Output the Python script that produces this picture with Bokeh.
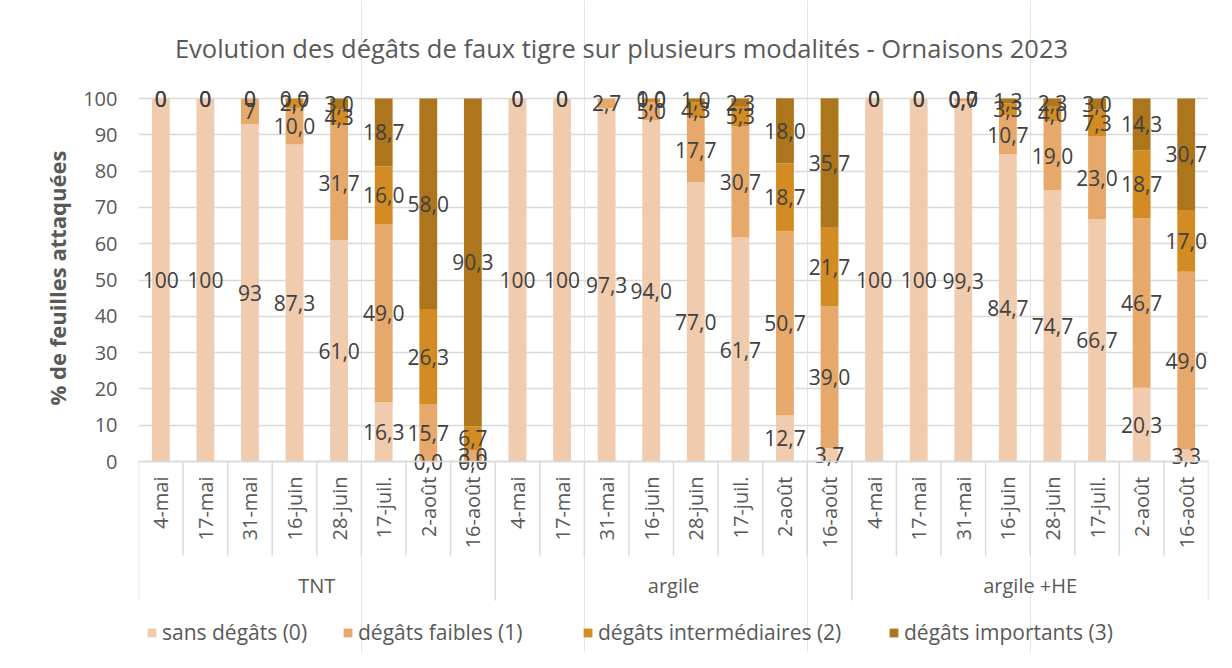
import math
from bokeh.plotting import figure
from bokeh.models import ColumnDataSource, Range1d, FixedTicker, Title, Legend, LegendItem
from bokeh.core.properties import value
from bokeh.embed import file_html
from bokeh.resources import INLINE

# ---------------- data ----------------
GROUPS = ["TNT", "argile", "argile +HE"]
DATES = ["4-mai", "17-mai", "31-mai", "16-juin", "28-juin", "17-juil.", "2-août", "16-août"]
SERIES = ["sans dégâts (0)", "dégâts faibles (1)", "dégâts intermédiaires (2)", "dégâts importants (3)"]

TNT_0 = [100, 100, 93, 87.3, 61.0, 16.3, 0.0, 0.0]
TNT_1 = [0, 0, 7, 10.0, 31.7, 49.0, 15.7, 3.0]
TNT_2 = [0, 0, 0, 2.7, 4.3, 16.0, 26.3, 6.7]
TNT_3 = [0, 0, 0, 0.0, 3.0, 18.7, 58.0, 90.3]
TNT_DEC = [0, 0, 0, 1, 1, 1, 1, 1]

ARG_0 = [100, 100, 97.3, 94.0, 77.0, 61.7, 12.7, 3.7]
ARG_1 = [0, 0, 2.7, 5.0, 17.7, 30.7, 50.7, 39.0]
ARG_2 = [0, 0, None, 1.0, 4.3, 5.3, 18.7, 21.7]
ARG_3 = [0, 0, None, 0.0, 1.0, 2.3, 18.0, 35.7]
ARG_DEC = [0, 0, 1, 1, 1, 1, 1, 1]

HE_0 = [100, 100, 99.3, 84.7, 74.7, 66.7, 20.3, 3.3]
HE_1 = [0, 0, 0.7, 10.7, 19.0, 23.0, 46.7, 49.0]
HE_2 = [0, 0, 0.0, 3.3, 4.0, 7.3, 18.7, 17.0]
HE_3 = [0, 0, 0.0, 1.3, 2.3, 3.0, 14.3, 30.7]
HE_DEC = [0, 0, 1, 1, 1, 1, 1, 1]

Y_TICKS = [0, 10, 20, 30, 40, 50, 60, 70, 80, 90, 100]

TITLE = "Evolution des dégâts de faux tigre sur plusieurs modalités - Ornaisons 2023"
Y_LABEL = "% de feuilles attaquées"

# ---------------- styles ----------------
COLORS = ["#F0CBAD", "#E6A96B", "#D38C24", "#AE761C"]
FONT = "Open Sans"
TXT = "#595959"
LBL = "#404040"
GRID = "#D9D9D9"

group_series = [
    (TNT_0, TNT_1, TNT_2, TNT_3, TNT_DEC),
    (ARG_0, ARG_1, ARG_2, ARG_3, ARG_DEC),
    (HE_0, HE_1, HE_2, HE_3, HE_DEC),
]

n_dates = len(DATES)
xs, cols = [], {f"s{k}": [] for k in range(4)}
lx, ly, lt = [], [], []
for g, (a, b, c, d, dec) in enumerate(group_series):
    for i in range(n_dates):
        x = g * n_dates + i + 0.5
        xs.append(x)
        base = 0.0
        for k, ser in enumerate((a, b, c, d)):
            v = ser[i]
            vv = 0.0 if v is None else v
            cols[f"s{k}"].append(vv)
            if v is not None:
                lx.append(x)
                ly.append(base + vv / 2)
                lt.append(f"{v:.{dec[i]}f}".replace(".", ","))
            base += vv

src = ColumnDataSource(dict(x=xs, **cols))
lab_src = ColumnDataSource(dict(x=lx, y=ly, text=lt))

# ---------------- figure ----------------
W, H = 1216, 652
LEFT, RIGHT = 138, 1208
PX_PER_UNIT = 3.63
Y0 = 461  # canvas y of value 0
y_top = Y0 / PX_PER_UNIT
y_bot = -(H - Y0) / PX_PER_UNIT
n_tot = len(GROUPS) * n_dates
PX_X = (RIGHT - LEFT) / n_tot


def ys(py):
    return (Y0 - py) / PX_PER_UNIT


def xsc(px):
    return (px - LEFT) / PX_X


p = figure(width=W, height=H, output_backend="svg", toolbar_location=None,
           x_range=Range1d(0, n_tot), y_range=Range1d(y_bot, y_top),
           x_axis_location=None, y_axis_location="left",
           min_border_left=LEFT, min_border_right=W - RIGHT, min_border_top=0, min_border_bottom=0)
p.outline_line_color = None
p.background_fill_color = "white"
p.border_fill_color = "white"

yax = p.yaxis[0]
yax.ticker = FixedTicker(ticks=Y_TICKS)
yax.axis_line_color = None
yax.major_tick_line_color = None
yax.minor_tick_line_color = None
yax.major_tick_out = 0
yax.major_tick_in = 0
yax.major_label_standoff = 21
yax.major_label_text_font = FONT
yax.major_label_text_font_size = "20px"
yax.major_label_text_color = TXT

p.ygrid.grid_line_color = GRID
p.ygrid.grid_line_width = 1.5
p.ygrid.ticker = FixedTicker(ticks=Y_TICKS)

# y-axis title
p.add_layout(Title(text=Y_LABEL, align="left", offset=H - 405, standoff=18, text_font=FONT,
                   text_font_size="22px", text_font_style="bold", text_color=TXT), "left")

# bars
renderers = p.vbar_stack([f"s{k}" for k in range(4)], x="x", width=0.4, color=COLORS,
                         line_color=None, source=src)

# data labels
p.text(x="x", y="y", text="text", source=lab_src, text_align="center", text_baseline="middle",
       text_font=value(FONT), text_font_size="21px", text_color=LBL)

# category axis structure
date_bottom = ys(555)
group_bottom = ys(600)
sep_x = list(range(n_tot + 1))
sep_y1 = [group_bottom if k % n_dates == 0 else date_bottom for k in sep_x]
p.segment(x0=sep_x, y0=[0] * len(sep_x), x1=sep_x, y1=sep_y1, line_color=GRID, line_width=1.5)
p.segment(x0=[0], y0=[0], x1=[n_tot], y1=[0], line_color=GRID, line_width=1.5)

# date labels (rotated)
date_x = [g * n_dates + i + 0.5 for g in range(len(GROUPS)) for i in range(n_dates)]
date_t = [DATES[i] for g in range(len(GROUPS)) for i in range(n_dates)]
p.text(x=date_x, y=[ys(476)] * len(date_x), text=date_t, angle=math.pi / 2,
       text_align="right", text_baseline="middle", text_font=value(FONT),
       text_font_size="20px", text_color=TXT)

# group labels
p.text(x=[g * n_dates + n_dates / 2 for g in range(len(GROUPS))],
       y=[ys(585)] * len(GROUPS), text=GROUPS,
       text_align="center", text_baseline="middle", text_font=value(FONT),
       text_font_size="20px", text_color=TXT)

# title
p.text(x=[xsc(621)], y=[ys(47)], text=[TITLE],
       text_align="center", text_baseline="middle", text_font=value(FONT),
       text_font_size="25.5px", text_color=TXT)

# legends (one per entry, placed like the original)
LEG_X = [146, 342, 582, 888]
for k, r in enumerate(renderers):
    lg = Legend(items=[LegendItem(label=SERIES[k], renderers=[r])],
                location=(LEG_X[k] - LEFT, H - 636 - 10), orientation="horizontal",
                background_fill_alpha=0, border_line_color=None, padding=0, margin=0,
                glyph_width=11, glyph_height=11, label_height=20, label_standoff=5,
                label_text_font=FONT, label_text_font_size="21px", label_text_color=TXT)
    p.add_layout(lg, "center")

open("out.html", "w").write(file_html(p, INLINE))
